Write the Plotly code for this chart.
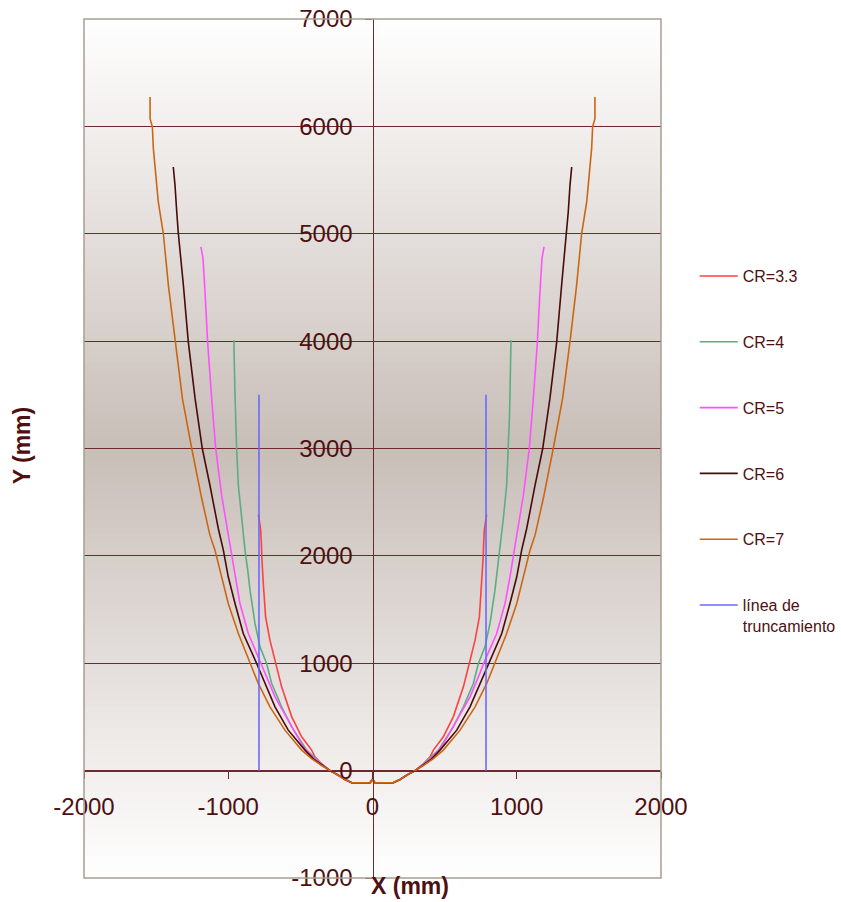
import plotly.graph_objects as go

# ---------------- data (right half of each profile; curves are symmetric about x=0) ----------------
bottom_x = [0, 17, 144, 191, 240, 295]
bottom_y = [-82, -113, -113, -82, -40, 0]

cr33_x = [350, 399, 422, 491, 560, 630, 671, 711, 741, 757, 768, 770, 775, 791]
cr33_y = [60, 129, 191, 315, 501, 780, 998, 1215, 1432, 1743, 2006, 2100, 2240, 2385]

cr4_x = [350, 399, 456, 560, 630, 699, 734, 780, 815, 849, 865, 884, 907, 930, 942, 949, 953, 960, 960]
cr4_y = [58, 120, 191, 408, 594, 812, 998, 1153, 1373, 1681, 1867, 2053, 2348, 2658, 3000, 3279, 3496, 3900, 4008]

cr5_x = [350, 410, 480, 584, 676, 734, 780, 861, 919, 953, 981, 1000, 1046, 1087, 1115, 1143, 1161, 1175, 1189]
cr5_y = [55, 120, 222, 470, 687, 873, 1029, 1277, 1557, 1805, 2053, 2193, 2565, 3000, 3466, 3993, 4458, 4769, 4877]

cr6_x = [350, 410, 468, 584, 676, 745, 803, 896, 953, 1000, 1034, 1069, 1127, 1180, 1230, 1277, 1311, 1346, 1357, 1369, 1381]
cr6_y = [50, 110, 191, 377, 594, 812, 998, 1277, 1557, 1805, 2053, 2255, 2658, 3000, 3466, 3993, 4520, 5002, 5203, 5451, 5622]

cr7_x = [350, 420, 491, 607, 711, 792, 849, 930, 1000, 1046, 1092, 1127, 1184, 1253, 1318, 1369, 1415, 1450, 1485, 1519, 1526, 1542, 1542]
cr7_y = [45, 110, 191, 377, 594, 812, 998, 1277, 1557, 1805, 2053, 2193, 2534, 3000, 3466, 3993, 4520, 5002, 5296, 5793, 5995, 6072, 6274]

trunc_x = [-787, -787, None, 787, 787]
trunc_y = [0, 3500, None, 0, 3500]

names = ["CR=3.3", "CR=4", "CR=5", "CR=6", "CR=7"]
halves = [(cr33_x, cr33_y), (cr4_x, cr4_y), (cr5_x, cr5_y), (cr6_x, cr6_y), (cr7_x, cr7_y)]
colors = ["#FF4040", "#5BAE82", "#FF50FF", "#4A0A0A", "#CC6612"]
trunc_name = "línea de<br>truncamiento"
trunc_color = "#6A6AFF"

x_ticks = [-2000, -1000, 0, 1000, 2000]
y_ticks = [-1000, 0, 1000, 2000, 3000, 4000, 5000, 6000, 7000]

TXT = "#4E1010"
GRID = "#6B2B2B"
FONT = "Liberation Sans, Arial, sans-serif"


def full_profile(xr, yr):
    hx = bottom_x + xr
    hy = bottom_y + yr
    xs = [-v for v in reversed(hx)] + hx[1:]
    ys = list(reversed(hy)) + hy[1:]
    return xs, ys


fig = go.Figure()
for i, (name, (hx, hy), col) in enumerate(zip(names, halves, colors)):
    xs, ys = full_profile(hx, hy)
    fig.add_trace(go.Scatter(x=xs, y=ys, mode="lines", name=name, legendgroup=f"g{i}",
                             line=dict(color=col, width=1.6)))
fig.add_trace(go.Scatter(x=trunc_x, y=trunc_y, mode="lines", name=trunc_name, legendgroup="g5",
                         line=dict(color=trunc_color, width=1.6)))

# background gradient (white at edges, greyish-brown at centre)
shapes = []
N = 120
center = (200, 190, 184)
for k in range(N):
    f0 = k / N
    f1 = (k + 1) / N
    fm = (f0 + f1) / 2
    t = 1 - abs(fm - 0.5) / 0.5
    c = tuple(int(round(255 - (255 - cc) * t)) for cc in center)
    shapes.append(dict(type="rect", xref="x domain", yref="y domain", x0=0, x1=1, y0=f0, y1=f1 + 0.001,
                       fillcolor="rgb(%d,%d,%d)" % c, line=dict(width=0), layer="below"))
shapes.append(dict(type="rect", xref="x domain", yref="y domain", x0=0, x1=1, y0=0, y1=1,
                   line=dict(color="#A89F8E", width=1.5), fillcolor="rgba(0,0,0,0)", layer="above"))

fig.update_layout(
    width=841, height=902,
    margin=dict(l=84, r=180, t=19, b=24, autoexpand=False),
    paper_bgcolor="white", plot_bgcolor="white",
    font=dict(family=FONT, color=TXT),
    shapes=shapes,
    showlegend=True,
    legend=dict(x=1.0585, xanchor="left", y=0.7205, yanchor="top", font=dict(size=16, color=TXT),
                tracegroupgap=42, valign="top", bgcolor="rgba(0,0,0,0)", itemwidth=38),
    xaxis=dict(range=[-2000, 2000], tickvals=x_ticks, ticktext=[str(v) for v in x_ticks],
               anchor="free", position=0.125, showgrid=False, zeroline=False, automargin=False,
               showline=True, linecolor=GRID, linewidth=1.2,
               ticks="outside", ticklen=7, tickcolor=GRID, tickwidth=1.2,
               tickfont=dict(size=24, color=TXT), ticklabelstandoff=7),
    yaxis=dict(range=[-1000, 7000], tickvals=y_ticks, ticktext=[str(v) for v in y_ticks],
               anchor="free", position=0.5, showgrid=True, gridcolor=GRID, gridwidth=1.3,
               zeroline=False, showline=True, linecolor=GRID, linewidth=1.2, automargin=False,
               ticks="outside", ticklen=7, tickcolor=GRID, tickwidth=1.2,
               tickfont=dict(size=24, color=TXT), ticklabelstandoff=8),
    annotations=[
        dict(text="<b>Y (mm)</b>", xref="paper", yref="paper", x=-0.107, y=0.504, textangle=-90,
             showarrow=False, font=dict(size=23, color=TXT), xanchor="center", yanchor="middle"),
        dict(text="<b>X (mm)</b>", xref="paper", yref="paper", x=0.565, y=-0.0093,
             showarrow=False, font=dict(size=23, color=TXT), xanchor="center", yanchor="middle"),
    ],
)

fig.write_html("out.html")
